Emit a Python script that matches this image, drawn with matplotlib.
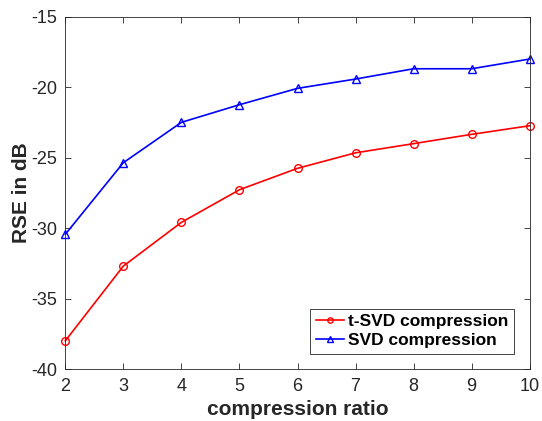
import numpy as np
import matplotlib
matplotlib.use("Agg")
import matplotlib.pyplot as plt

plt.rcParams['font.family'] = ['Liberation Sans', 'DejaVu Sans']
plt.rcParams['axes.unicode_minus'] = False

ratio = [2, 3, 4, 5, 6, 7, 8, 9, 10]
tsvd_rse = [-37.98, -32.68, -29.58, -27.27, -25.75, -24.65, -24.0, -23.34, -22.73]
svd_rse = [-30.43, -25.35, -22.49, -21.24, -20.08, -19.42, -18.69, -18.69, -18.0]
series_names = ["t-SVD compression", "SVD compression"]

axis_col = (0.15, 0.15, 0.15)

fig = plt.figure(figsize=(5.42, 4.21), dpi=100)
ax = fig.add_axes([0.1205, 0.1228, 0.9773 - 0.1205, 0.9603 - 0.1228])

ax.plot(ratio, tsvd_rse, color='red', marker='o', markersize=5.5, markerfacecolor='none',
        linewidth=1.2, label=series_names[0], clip_on=False)
ax.plot(ratio, svd_rse, color='blue', marker='^', markersize=5.5, markerfacecolor='none',
        linewidth=1.2, label=series_names[1], clip_on=False)

ax.set_xlim(2, 10)
ax.set_ylim(-40, -15)
ax.set_xticks(range(2, 11))
ax.set_yticks(range(-40, -14, 5))
ax.tick_params(direction='in', length=4, width=0.6, colors=axis_col, labelsize=13,
               top=True, right=True, pad=6)
for sp in ax.spines.values():
    sp.set_color(axis_col)
    sp.set_linewidth(0.6)

ax.set_xlabel("compression ratio", fontsize=15, fontweight='bold', color=axis_col, labelpad=4)
ax.set_ylabel("RSE in dB", fontsize=15, fontweight='bold', color=axis_col, labelpad=0)

leg = ax.legend(loc='lower right', prop={'weight': 'bold', 'size': 12.5},
                fancybox=False, framealpha=1, edgecolor=axis_col, handlelength=1.65,
                handletextpad=0.25, borderpad=0.3, labelspacing=0.25,
                borderaxespad=0.9, markerscale=0.7)
leg.get_frame().set_linewidth(0.6)

fig.savefig("out.png", dpi=100, facecolor='white')
